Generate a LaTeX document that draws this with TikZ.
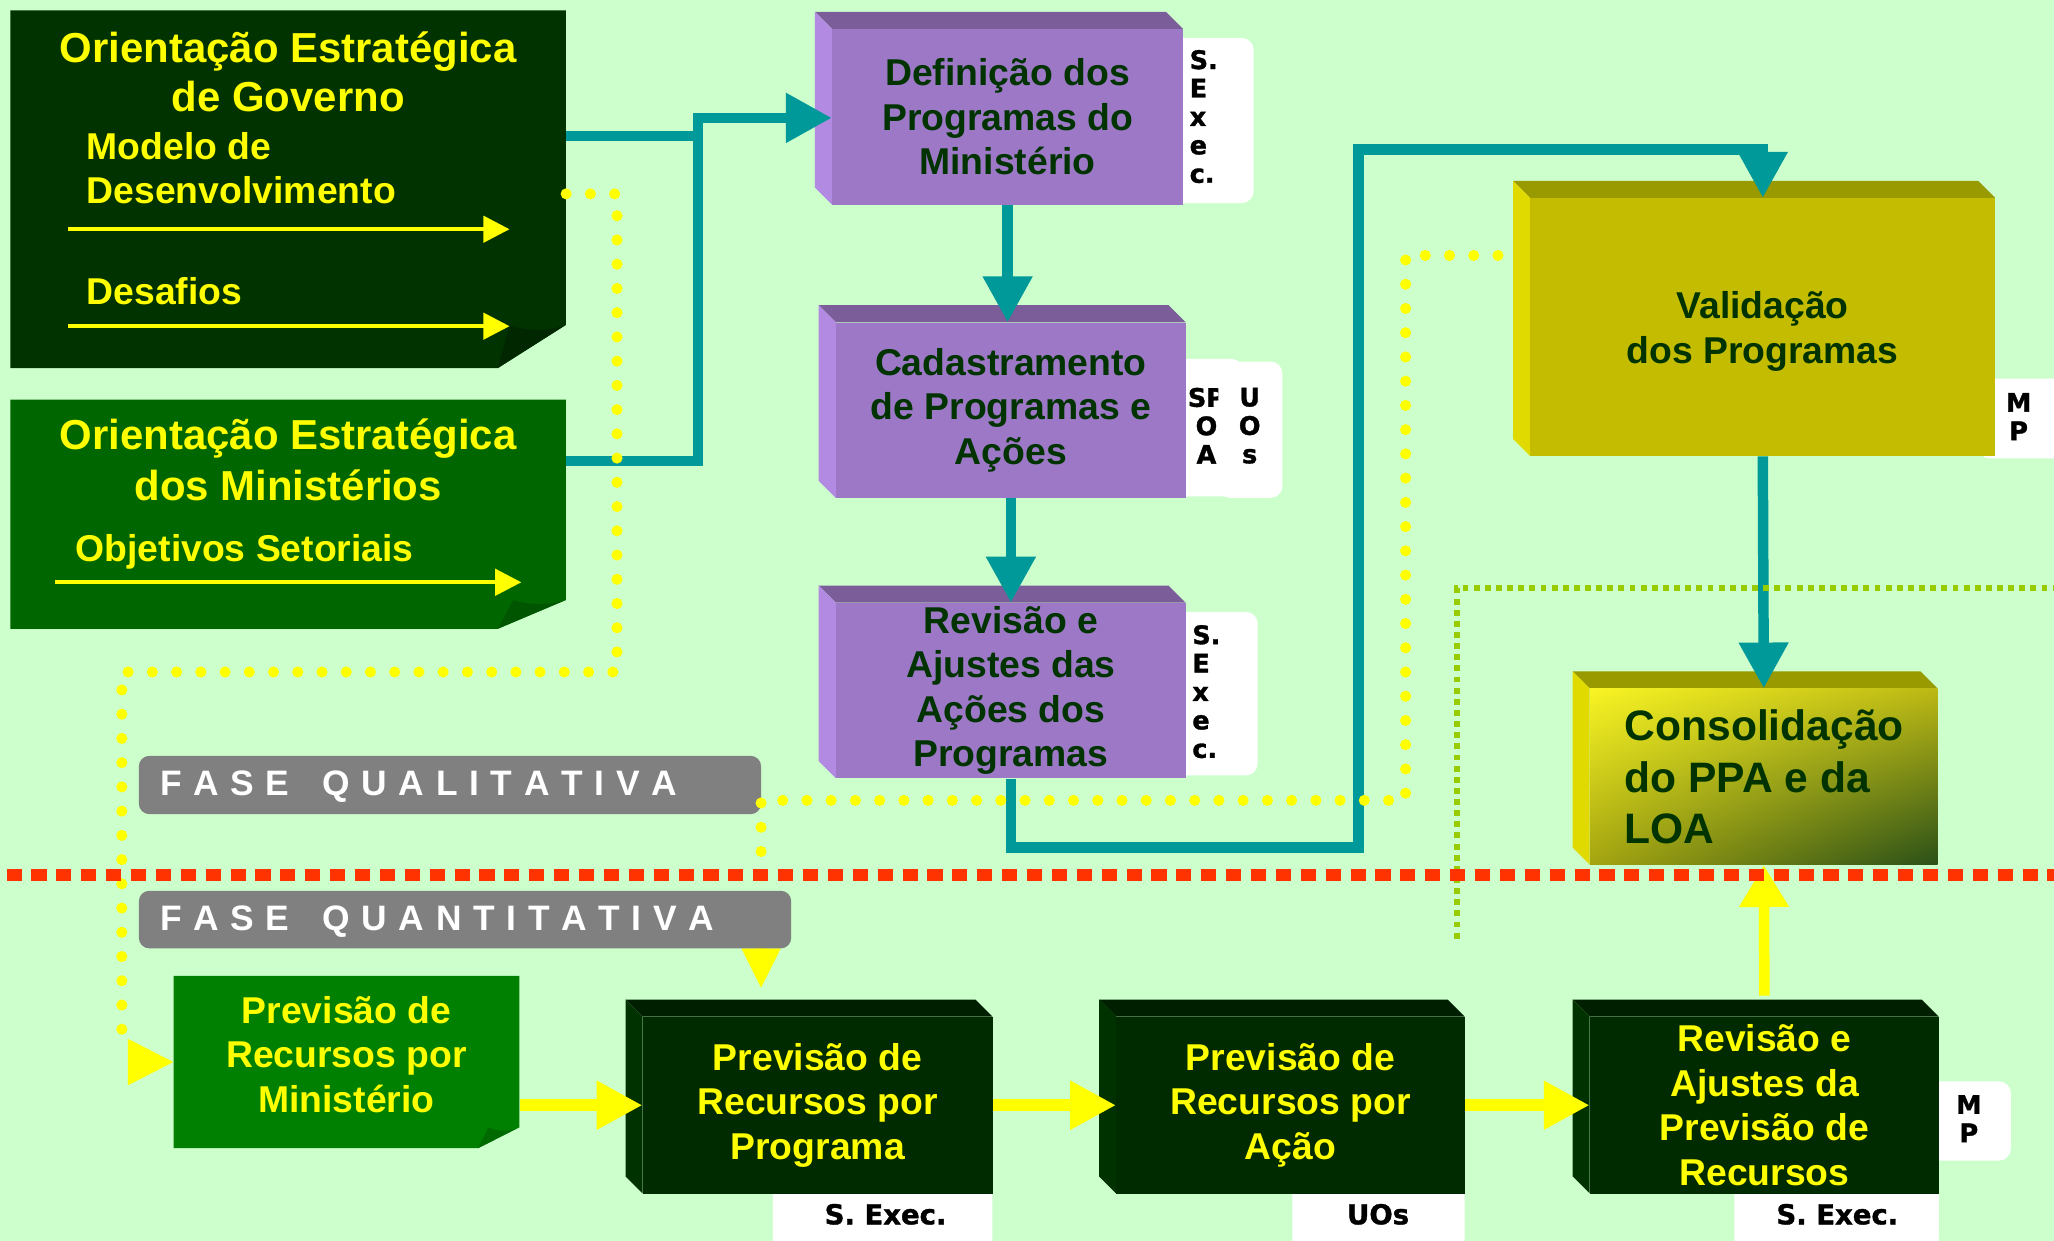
\documentclass[tikz,border=0pt]{standalone}
\usepackage{fontspec}
\setmainfont{Liberation Sans}
\newfontfamily\labfont{DejaVu Sans}[BoldFeatures={FakeBold=1.3}]
\usetikzlibrary{arrows.meta,calc,shadings}
\definecolor{bgc}{HTML}{CCFFCC}
\definecolor{govc}{HTML}{003300}
\definecolor{govfold}{HTML}{002700}
\definecolor{minc}{HTML}{006600}
\definecolor{minfold}{HTML}{005500}
\definecolor{yel}{HTML}{FFFF00}
\definecolor{tealc}{HTML}{009999}
\definecolor{purf}{HTML}{9C78C6}
\definecolor{purt}{HTML}{7B5E99}
\definecolor{purl}{HTML}{B38AE2}
\definecolor{dtxt}{HTML}{003300}
\definecolor{olf}{HTML}{C4BC00}
\definecolor{olt}{HTML}{999900}
\definecolor{oll}{HTML}{E0DA00}
\definecolor{dkf}{HTML}{002A00}
\definecolor{dkt}{HTML}{001E00}
\definecolor{dkl}{HTML}{003200}
\definecolor{mingr}{HTML}{008000}
\definecolor{pminfold}{HTML}{006A00}
\definecolor{grayc}{HTML}{808080}
\definecolor{redc}{HTML}{FF3300}
\definecolor{lgc}{HTML}{99CC00}
\definecolor{cul}{HTML}{F8F424}
\definecolor{cur}{HTML}{BCB814}
\definecolor{cll}{HTML}{A4A410}
\definecolor{clr}{HTML}{2A5018}
\newcommand\lsp{\kern8.9pt}
\newcommand\tdbox[7]{%
  \fill[#6 top] (#2,#3) -- (#4-13,#3) -- (#4,#3+13) -- (#2+13,#3+13) -- cycle;
  \fill[#6 left] (#2,#3) -- (#2+13,#3+13) -- (#2+13,#5) -- (#2,#5-13) -- cycle;
  \node[#6 front, anchor=north west, minimum width={#4-#2-13}, minimum height={#5-#3-13}] (#1) at (#2+13,#3+13) {#7};
}
\tikzset{
  boxfont/.style={font=\fontsize{28.5}{34}\selectfont\bfseries},
  pur top/.style={fill=purt}, pur left/.style={fill=purl},
  pur front/.style={fill=purf, text=dtxt, boxfont, align=center, inner sep=0pt},
  ol top/.style={fill=olt}, ol left/.style={fill=oll},
  ol front/.style={fill=olf, text=dtxt, boxfont, align=center, inner sep=0pt},
  co top/.style={fill=olt}, co left/.style={fill=oll},
  co front/.style={shade, upper left=cul, upper right=cur, lower left=cll, lower right=clr, inner sep=0pt},
  dk top/.style={fill=dkt}, dk left/.style={fill=dkl},
  dk front/.style={fill=dkf, text=yel, boxfont, align=center, inner sep=0pt},
  tealln/.style={draw=tealc, line width=8pt, line join=miter},
  tealtip/.style={-{Triangle[length=35pt,width=36pt]}},
  yelln/.style={draw=yel, line width=9pt},
  yeltip/.style={-{Triangle[length=35pt,width=35pt]}},
  ydot/.style={draw=yel, line width=8.5pt, line cap=round, dash pattern=on 0pt off 18.5pt},
  gdot/.style={draw=lgc, line width=4.5pt, dash pattern=on 4.5pt off 4pt},
  rdash/.style={draw=redc, line width=9pt, dash pattern=on 11.5pt off 7.5pt, dash phase=14pt},
  labbox/.style={fill=white, rounded corners=9pt},
  vlab/.style={font=\labfont\bfseries\fontsize{19.5}{21.7}\selectfont, align=center, inner sep=0pt},
  vlabl/.style={vlab, align=left, anchor=west},
  hlab/.style={font=\labfont\bfseries\fontsize{21}{25}\selectfont, inner sep=0pt},
  fasebox/.style={fill=grayc, rounded corners=8pt},
  fasetxt/.style={text=white, font=\fontsize{27}{32}\selectfont\bfseries, inner sep=0pt, anchor=base west},
  ttl/.style={text=yel, font=\fontsize{32}{38.5}\selectfont\bfseries, inner sep=0pt, anchor=base},
  sub/.style={text=yel, font=\fontsize{28.5}{34}\selectfont\bfseries, inner sep=0pt, anchor=base west},
  inarrow/.style={draw=yel, line width=3pt, -{Triangle[length=20pt,width=20pt]}},
}
\begin{document}
\begin{tikzpicture}[x=1pt,y=-1pt]
\useasboundingbox (0,0) rectangle (1568,947.3);
\fill[bgc] (0,0) rectangle (1568,947.3);

% ---- white role labels (behind the boxes)
\fill[labbox] (890,29) rectangle (957,155);
\node[vlabl] (l1) at (908,89) {S.\\E\\x\\e\\c.};
\fill[labbox] (895,274) rectangle (949,379);
\node[vlab] (l2a) at (921,325) {SP\\O\\A};
\fill[labbox] (930,276) rectangle (979,380);
\node[vlab] (l2b) at (954,325) {U\\O\\s};
\fill[labbox] (895,467) rectangle (960,592);
\node[vlabl] (l3) at (910,528) {S.\\E\\x\\e\\c.};
\fill[labbox] (1510,289) rectangle (1590,350);
\node[vlab] (lv) at (1541,318) {M\\P};
\fill[labbox] (590,895) rectangle (757.5,955);
\node[hlab] (lp) at (676,927) {S. Exec.};
\fill[labbox] (986.5,895) rectangle (1118,955);
\node[hlab] (la) at (1052,927) {UOs};
\fill[labbox] (1324,895) rectangle (1480,955);
\node[hlab] (lr) at (1402.6,927) {S. Exec.};
\fill[labbox] (1470,825.5) rectangle (1535,886);
\node[vlab] (lm) at (1503,854) {M\\P};

% ---- strategic orientation boxes
\fill[govc] (8,8) -- (432,8) -- (432,248) -- (380,281) -- (8,281) -- cycle;
\fill[govfold] (389,248) .. controls (400,253) and (420,253) .. (432,248) -- (380,281) -- cycle;
\node[inner sep=0pt, minimum width=424pt, minimum height=273pt] (gov) at (220,144.5) {};
\node[ttl] (gov1) at (220,47.7) {Orientação Estratégica};
\node[ttl] (gov2) at (220,85.4) {de Governo};
\node[sub] (gov3) at (66,121.6) {Modelo de};
\node[sub] (gov4) at (66,155.5) {Desenvolvimento};
\node[sub] (gov5) at (66,232.4) {Desafios};
\draw[inarrow] (52,175) -- (389,175);
\draw[inarrow] (52,249) -- (389,249);

\fill[minc] (8,305) -- (432,305) -- (432,458) -- (380,480) -- (8,480) -- cycle;
\fill[minfold] (392,458) .. controls (402,462) and (420,462) .. (432,458) -- (380,480) -- cycle;
\node[inner sep=0pt, minimum width=424pt, minimum height=175pt] (minist) at (220,392.5) {};
\node[ttl] (min1) at (220,343.5) {Orientação Estratégica};
\node[ttl] (min2) at (220,381.8) {dos Ministérios};
\node[sub] (min3) at (57.5,428.7) {Objetivos Setoriais};
\draw[inarrow] (42,444.5) -- (398,444.5);

% ---- purple program boxes
\tdbox{p1}{622}{9}{903}{156}{pur}{Definição dos\\Programas do\\Ministério}
\tdbox{p2}{625}{233}{905}{380}{pur}{Cadastramento\\de Programas e\\Ações}
\tdbox{p3}{625}{447}{905}{594}{pur}{Revisão e\\Ajustes das\\Ações dos\\Programas}

% ---- validation and consolidation
\tdbox{val}{1155}{138}{1523}{348}{ol}{}
\node[text=dtxt, boxfont, align=center, inner sep=0pt] (valt) at (1345.5,253) {Validação\\dos Programas};
\tdbox{cons}{1200.5}{512.5}{1479}{660}{co}{}
\node[text=dtxt, font=\fontsize{32.5}{39}\selectfont\bfseries, align=left, inner sep=0pt, anchor=west] (const) at (1240,593) {Consolidação\\do PPA e da\\LOA};

% ---- quantitative phase boxes
\fill[mingr] (132.5,745) -- (396.5,745) -- (396.5,860.5) -- (365,876.5) -- (132.5,876.5) -- cycle;
\fill[pminfold] (373,860.5) .. controls (380,864) and (390,864) .. (396.5,860.5) -- (365,876.5) -- cycle;
\node[inner sep=0pt, minimum width=264pt, minimum height=131.5pt] (pmin) at (264.5,810.75) {};
\node[text=yel, boxfont, align=center, inner sep=0pt] (pmint) at (264.5,805) {Previsão de\\Recursos por\\Ministério};
\tdbox{pprog}{477.5}{763}{757.5}{911}{dk}{Previsão de\\Recursos por\\Programa}
\tdbox{pacao}{839}{763}{1118}{911}{dk}{Previsão de\\Recursos por\\Ação}
\tdbox{prev}{1200.5}{763}{1480}{911}{dk}{Revisão e\\Ajustes da\\Previsão de\\Recursos}

% ---- teal connectors
\coordinate (ja) at (533,104);
\coordinate (jb) at (533,352);
\coordinate (jc) at (533,90);
\coordinate (jd) at (1037,647);
\coordinate (je) at (1037,114);
\draw[tealln] (gov.east |- ja) -- (ja);
\draw[tealln, tealtip] (minist.east |- jb) -- (jb) -- (jc) -- (p1.west |- jc);
\draw[tealln, tealtip] (p1.south) -- (p1.south |- p2.north);
\draw[tealln, tealtip] (p2.south) -- (p3.north);
\draw[tealln, tealtip] (p3.south) -- (p3.south |- jd) -- (jd) -- (je) -- (val.north |- je) -- (val.north);
\draw[tealln, tealtip] (val.south) -- (cons.north);

% ---- yellow flow arrows
\draw[yelln, yeltip] (pmin.east |- pprog.west) -- (pprog.west);
\draw[yelln, yeltip] (pprog.east) -- (pacao.west);
\draw[yelln, yeltip] (pacao.east) -- (prev.west);
\draw[draw=yel, line width=8pt, -{Triangle[length=32pt,width=36pt]}] ([yshift=16pt]prev.north) -- (cons.south);

% ---- phase label (qualitative)
\fill[fasebox] (106,577) rectangle (581,621.5);
\node[fasetxt] (fq1) at (122,607) {F\lsp A\lsp S\lsp E\lsp\ \lsp Q\lsp U\lsp A\lsp L\lsp I\lsp T\lsp A\lsp T\lsp I\lsp V\lsp A};

% ---- yellow dotted connectors
\coordinate (da) at (471,148);
\coordinate (db) at (471,513);
\coordinate (dc) at (93,513);
\coordinate (dd) at (93,800);
\draw[ydot] (gov.east |- da) -- (da) -- (db) -- (dc) -- (dd);
\fill[yel] (97.6,793) -- (pmin.west) -- (97.6,828.5) -- cycle;
\coordinate (de) at (581,724);
\coordinate (df) at (581,611);
\coordinate (dg) at (1073,611);
\coordinate (dh) at (1073,195);
\coordinate (vl) at ([xshift=-13pt]val.west);
\draw[ydot] (de) -- (df) -- (dg) -- (dh) -- (vl |- dh);
\coordinate (dtip) at (581,754);
\fill[yel] (566,724) -- (596,724) -- (dtip) -- cycle;

% ---- green dotted boundary
\coordinate (ga) at (1580,449);
\coordinate (gb) at (1112,449);
\coordinate (gc) at (1112,717);
\draw[gdot] (ga) -- (gb) -- (gc);

% ---- phase label (quantitative)
\fill[fasebox] (106,680) rectangle (604,724);
\node[fasetxt] (fq2) at (122,710.7) {F\lsp A\lsp S\lsp E\lsp\ \lsp Q\lsp U\lsp A\lsp N\lsp T\lsp I\lsp T\lsp A\lsp T\lsp I\lsp V\lsp A};

% ---- red phase divider
\coordinate (ra) at (0,668);
\coordinate (rb) at (1580,668);
\draw[rdash] (ra) -- (rb);
\end{tikzpicture}
\end{document}
